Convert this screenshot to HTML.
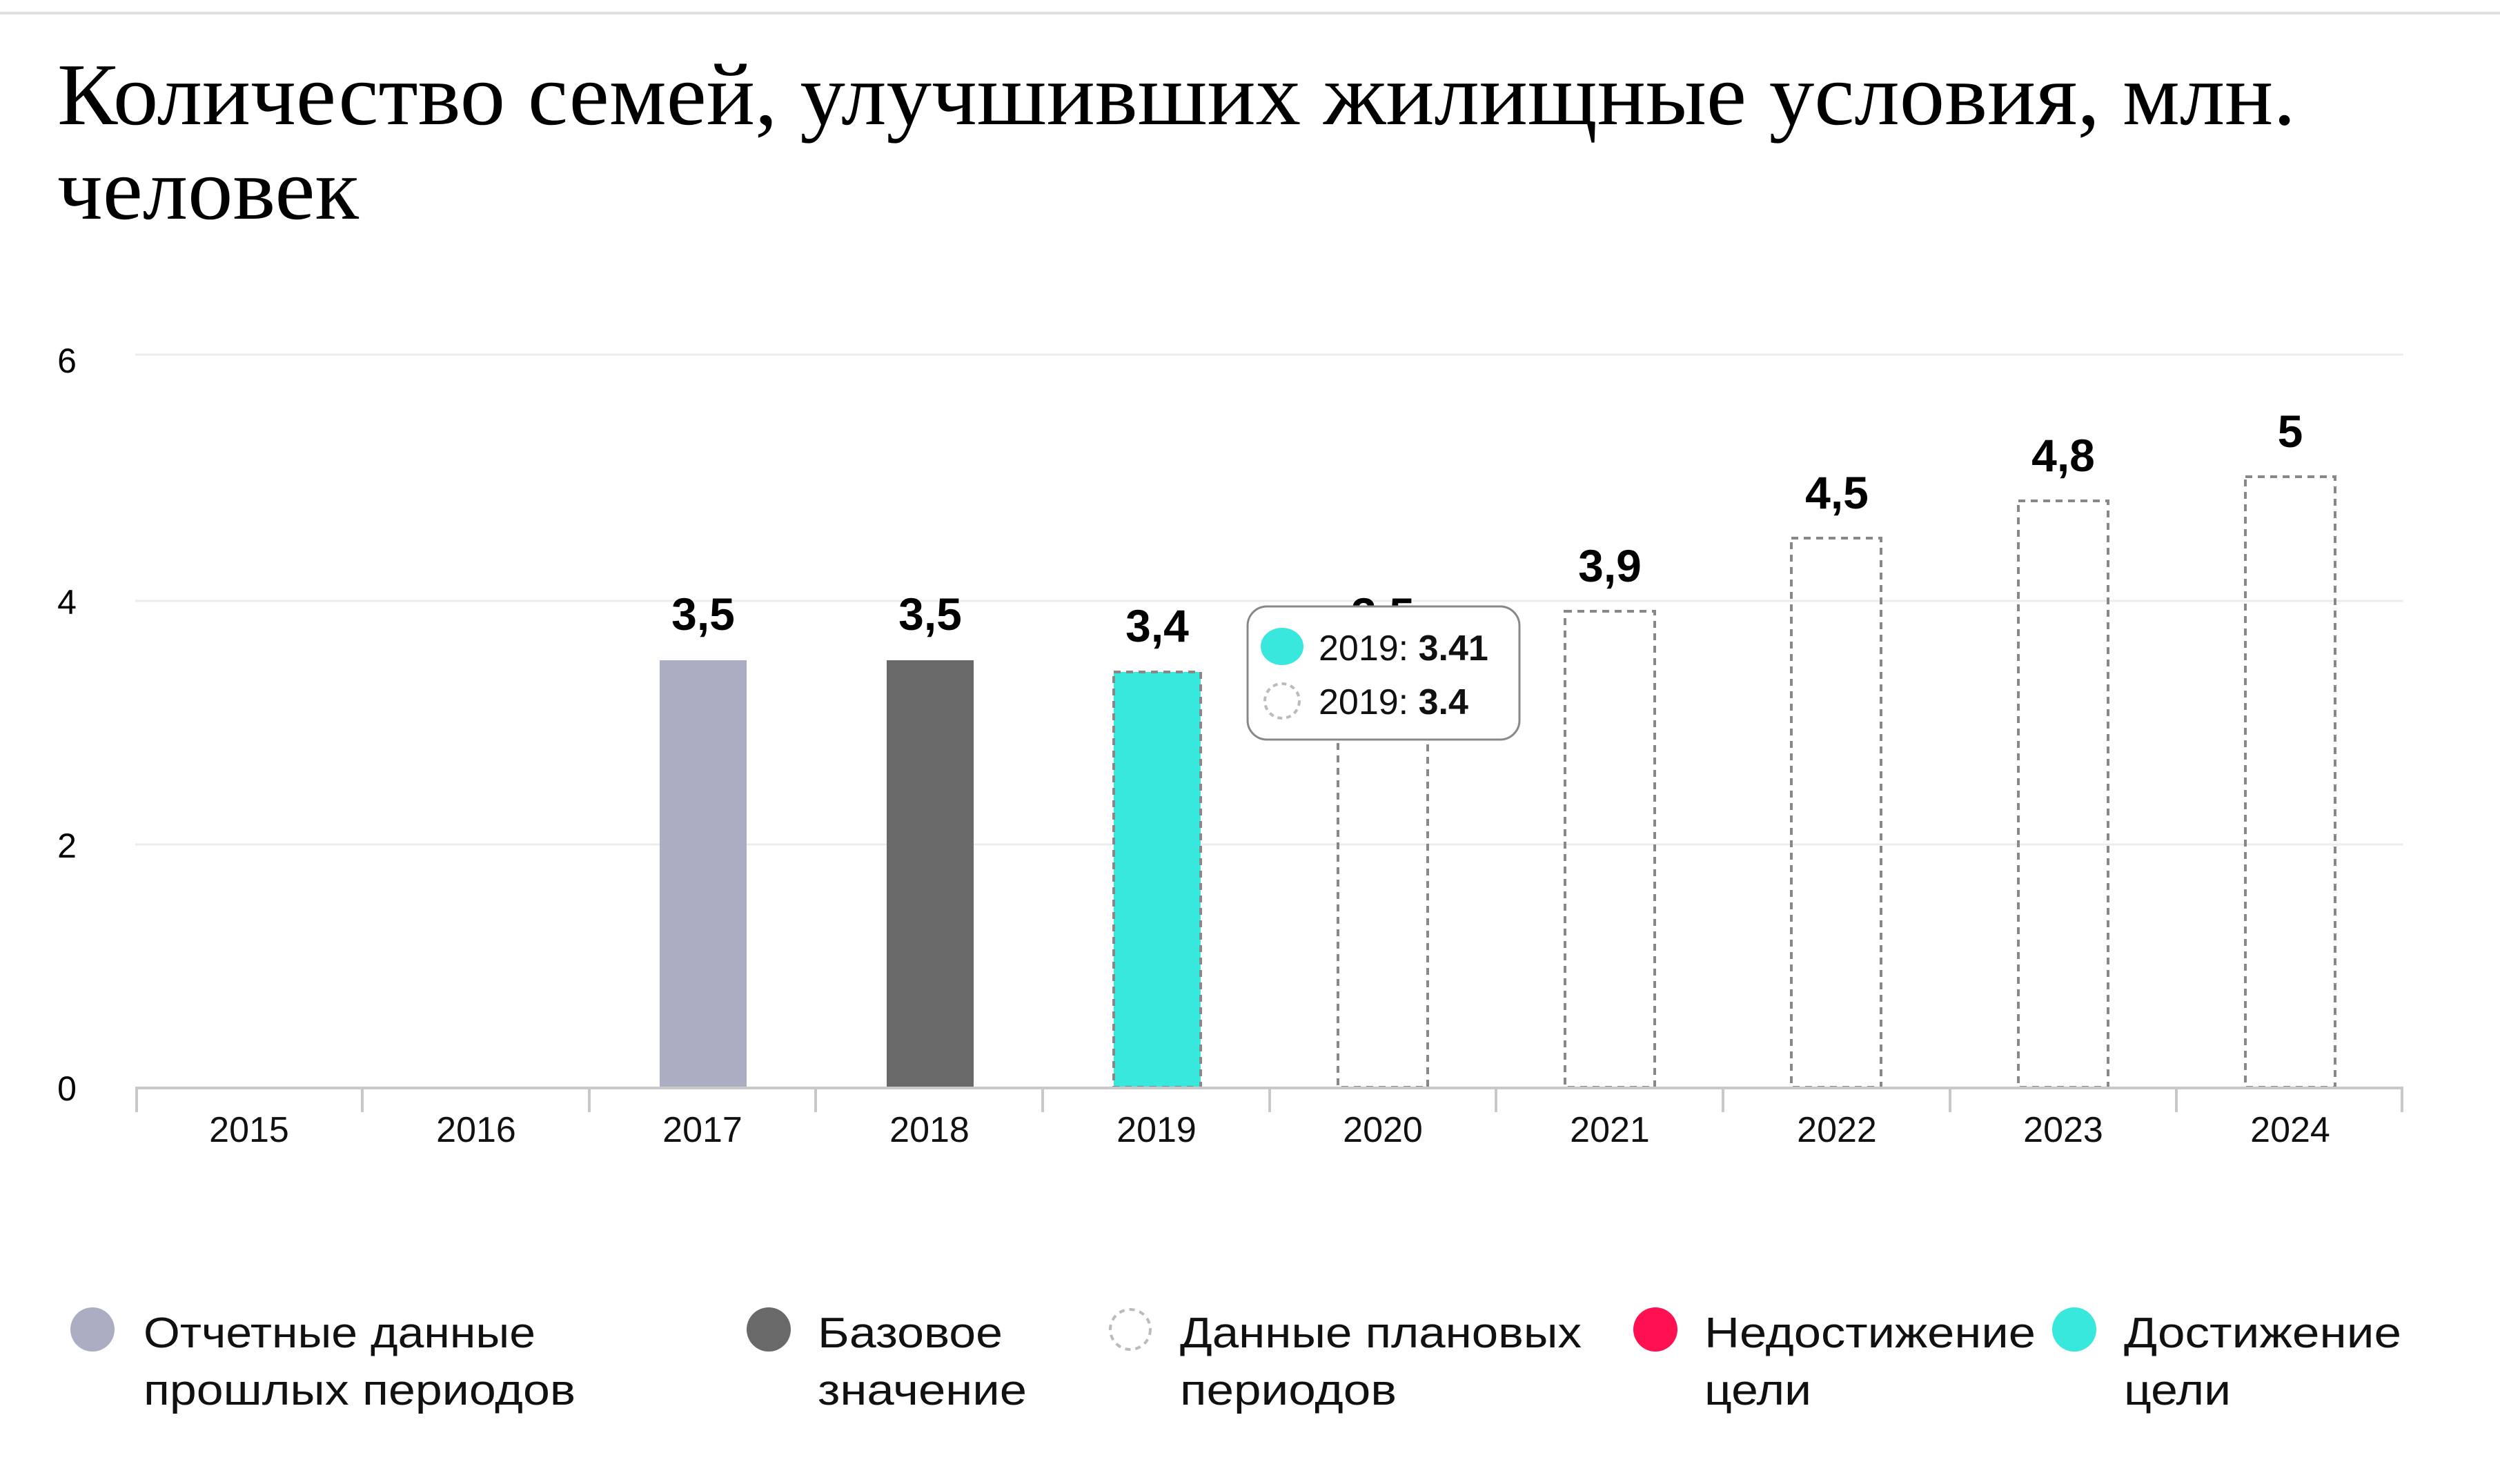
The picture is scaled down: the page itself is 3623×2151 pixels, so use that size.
<!DOCTYPE html>
<html><head><meta charset="utf-8"><style>
html,body{margin:0;padding:0;background:#fff;}
svg{display:block;}
</style></head><body>
<svg width="3623" height="2151" viewBox="0 0 3623 2151" xmlns="http://www.w3.org/2000/svg">
<rect x="0" y="0" width="3623" height="2151" fill="#fff"/>
<rect x="0" y="17" width="3623" height="4" fill="#dfe0e3"/>
<g font-family="'Liberation Serif', serif" font-size="128" fill="#000">
<text x="83" y="180" textLength="3244" lengthAdjust="spacingAndGlyphs">Количество семей, улучшивших жилищные условия, млн.</text>
<text x="83" y="317" textLength="437" lengthAdjust="spacingAndGlyphs">человек</text>
</g>
<!-- grid -->
<g stroke="#ececec" stroke-width="3">
<line x1="196" y1="514" x2="3483" y2="514"/>
<line x1="196" y1="871" x2="3483" y2="871"/>
<line x1="196" y1="1224" x2="3483" y2="1224"/>
</g>
<g font-family="'Liberation Sans', sans-serif" font-size="50" fill="#000">
<text x="97" y="540" text-anchor="middle">6</text>
<text x="97" y="890" text-anchor="middle">4</text>
<text x="97" y="1243" text-anchor="middle">2</text>
<text x="97" y="1595" text-anchor="middle">0</text>
</g>
<!-- bars -->
<rect x="956" y="957" width="126" height="619" fill="#abaec2"/>
<rect x="1285" y="957" width="126" height="619" fill="#696969"/>
<rect x="1614" y="974" width="126" height="602" fill="#38e8dc"/>
<g fill="none" stroke="#888" stroke-width="4" stroke-dasharray="10 8">
<rect x="1614" y="974" width="126" height="602"/>
<rect x="1939" y="957" width="130" height="619"/>
<rect x="2268" y="886" width="130" height="690"/>
<rect x="2596" y="780" width="130" height="796"/>
<rect x="2925" y="726" width="130" height="850"/>
<rect x="3254" y="691" width="130" height="885"/>
</g>
<!-- axis -->
<g stroke="#c8c8c8" stroke-width="4">
<line x1="196" y1="1577" x2="3483" y2="1577"/>
<line x1="198" y1="1577" x2="198" y2="1612"/>
<line x1="525" y1="1577" x2="525" y2="1612"/>
<line x1="854" y1="1577" x2="854" y2="1612"/>
<line x1="1182" y1="1577" x2="1182" y2="1612"/>
<line x1="1511" y1="1577" x2="1511" y2="1612"/>
<line x1="1840" y1="1577" x2="1840" y2="1612"/>
<line x1="2168" y1="1577" x2="2168" y2="1612"/>
<line x1="2497" y1="1577" x2="2497" y2="1612"/>
<line x1="2826" y1="1577" x2="2826" y2="1612"/>
<line x1="3154" y1="1577" x2="3154" y2="1612"/>
<line x1="3481" y1="1577" x2="3481" y2="1612"/>
</g>
<g font-family="'Liberation Sans', sans-serif" font-size="52" fill="#111" text-anchor="middle">
<text x="361" y="1655">2015</text>
<text x="690" y="1655">2016</text>
<text x="1018" y="1655">2017</text>
<text x="1347" y="1655">2018</text>
<text x="1676" y="1655">2019</text>
<text x="2004" y="1655">2020</text>
<text x="2333" y="1655">2021</text>
<text x="2662" y="1655">2022</text>
<text x="2990" y="1655">2023</text>
<text x="3319" y="1655">2024</text>
</g>
<g font-family="'Liberation Sans', sans-serif" font-size="66" font-weight="bold" fill="#000" text-anchor="middle">
<text x="1019" y="913">3,5</text>
<text x="1348" y="913">3,5</text>
<text x="1677" y="930">3,4</text>
<text x="2004" y="913">3,5</text>
<text x="2333" y="843">3,9</text>
<text x="2662" y="737">4,5</text>
<text x="2990" y="683">4,8</text>
<text x="3319" y="648">5</text>
</g>
<!-- tooltip -->
<rect x="1808" y="879" width="394" height="193" rx="28" fill="#fff" stroke="#888" stroke-width="3"/>
<ellipse cx="1858" cy="937" rx="31" ry="27" fill="#38e8dc"/>
<circle cx="1858" cy="1016" r="25" fill="none" stroke="#bbb" stroke-width="4" stroke-dasharray="7 6"/>
<g font-family="'Liberation Sans', sans-serif" font-size="52" fill="#111">
<text x="1911" y="957">2019: <tspan font-weight="bold">3.41</tspan></text>
<text x="1911" y="1035">2019: <tspan font-weight="bold">3.4</tspan></text>
</g>
<!-- legend -->
<circle cx="134" cy="1927" r="32" fill="#abaec2"/>
<circle cx="1114" cy="1927" r="32" fill="#696969"/>
<circle cx="1638" cy="1927" r="29" fill="none" stroke="#bbb" stroke-width="4" stroke-dasharray="8 7"/>
<circle cx="2399" cy="1927" r="32" fill="#ff1050"/>
<circle cx="3006" cy="1927" r="32" fill="#38e8dc"/>
<g font-family="'Liberation Sans', sans-serif" font-size="62" fill="#111">
<text x="208" y="1953" textLength="568" lengthAdjust="spacingAndGlyphs">Отчетные данные</text>
<text x="208" y="2036" textLength="626" lengthAdjust="spacingAndGlyphs">прошлых периодов</text>
<text x="1185" y="1953" textLength="268" lengthAdjust="spacingAndGlyphs">Базовое</text>
<text x="1185" y="2036" textLength="303" lengthAdjust="spacingAndGlyphs">значение</text>
<text x="1710" y="1953" textLength="582" lengthAdjust="spacingAndGlyphs">Данные плановых</text>
<text x="1710" y="2036" textLength="314" lengthAdjust="spacingAndGlyphs">периодов</text>
<text x="2470" y="1953" textLength="480" lengthAdjust="spacingAndGlyphs">Недостижение</text>
<text x="2470" y="2036" textLength="155" lengthAdjust="spacingAndGlyphs">цели</text>
<text x="3078" y="1953" textLength="402" lengthAdjust="spacingAndGlyphs">Достижение</text>
<text x="3078" y="2036" textLength="155" lengthAdjust="spacingAndGlyphs">цели</text>
</g>
</svg>
</body></html>
